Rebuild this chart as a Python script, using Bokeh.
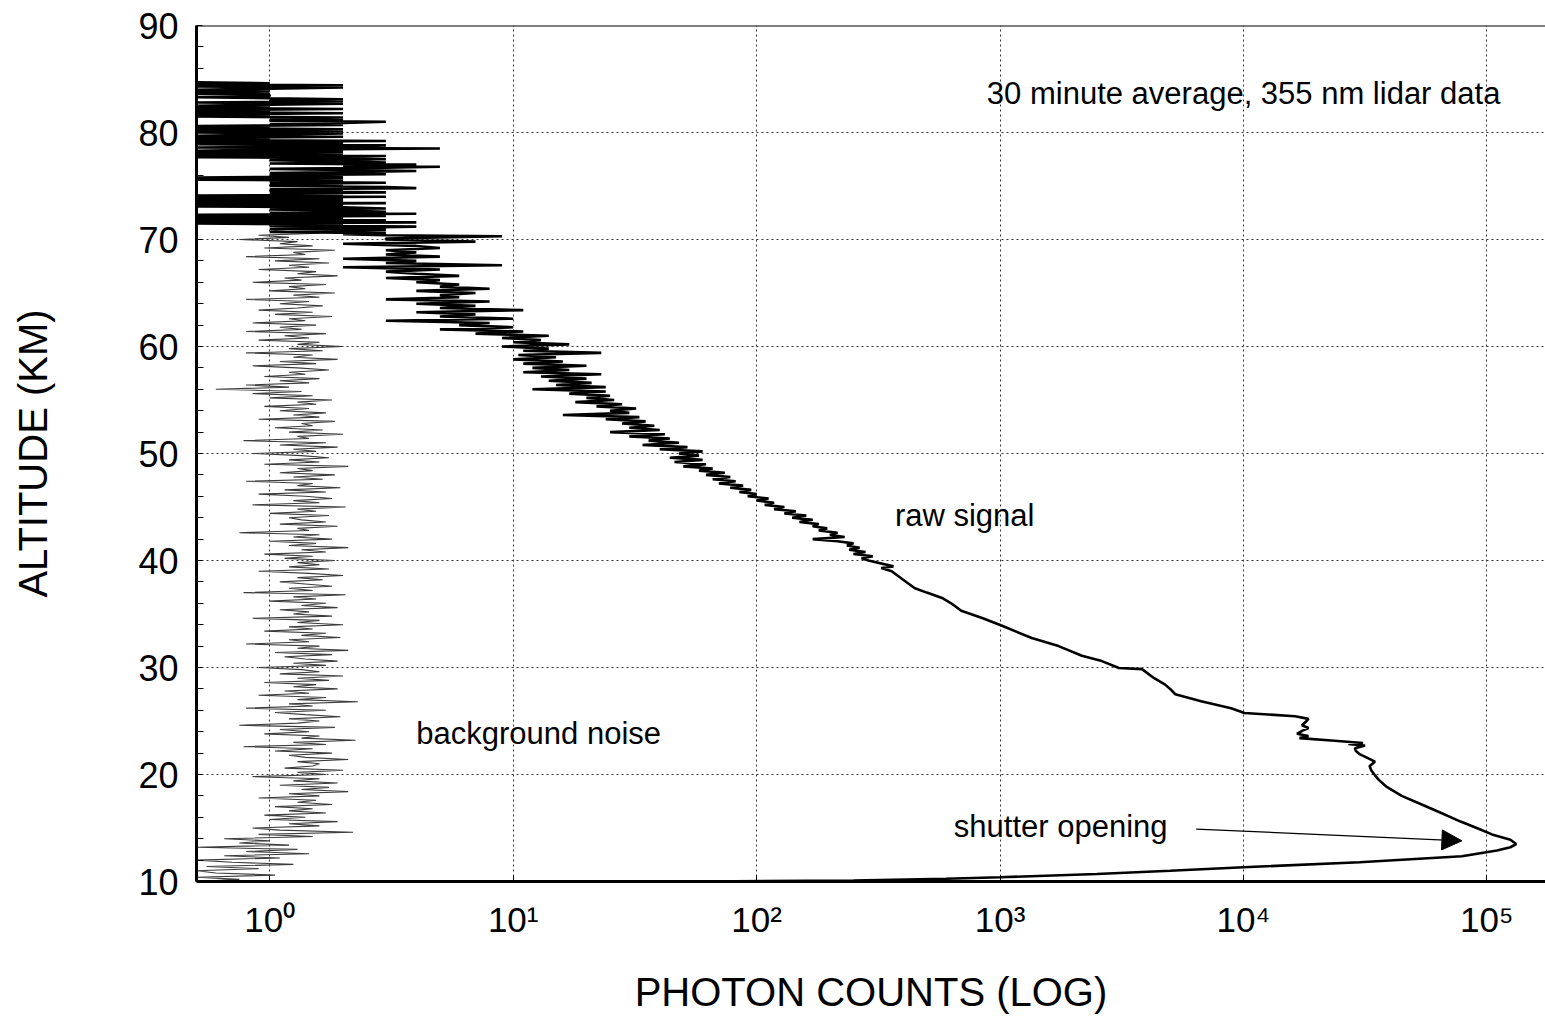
import numpy as np
from bokeh.plotting import figure
from bokeh.models import FixedTicker, Range1d, Label, Arrow, NormalHead, Span
from bokeh.embed import file_html
from bokeh.resources import INLINE

# ---------------- data ----------------
x_ticks = [1, 10, 100, 1000, 10000, 100000]
x_tick_labels = ["10⁰", "10¹", "10²", "10³", "10⁴", "10⁵"]
y_ticks = [10, 20, 30, 40, 50, 60, 70, 80, 90]
y_minor_ticks = [12, 14, 16, 18, 22, 24, 26, 28, 32, 34, 36, 38, 42, 44, 46, 48,
                 52, 54, 56, 58, 62, 64, 66, 68, 72, 74, 76, 78, 82, 84, 86, 88]

# raw signal, lower (smooth) part: altitude (km) and photon counts
raw_low_alt = [10.0, 10.1, 10.25, 10.4, 10.7, 11.0, 11.33, 11.8, 12.36, 12.9,
               13.2, 13.5, 13.9, 14.4, 14.9, 15.6, 16.4, 17.2, 18.0, 18.9,
               19.5, 20.0, 20.4, 20.8, 21.2, 21.6, 21.9, 22.2, 22.45, 22.7,
               22.85, 22.95, 23.15, 23.4, 23.6, 23.8, 24.1, 24.35, 24.6, 24.9,
               25.2, 25.45, 25.75, 26.2, 26.85, 27.5, 28.0, 28.4, 29.0, 29.85,
               29.95, 30.6, 31.1, 32.0, 32.75, 33.9, 34.6, 35.3, 36.0, 36.5,
               37.0, 37.4, 38.2, 39.0, 39.3, 39.45, 40.0]
raw_low_counts = [60, 250, 600, 1000, 2500, 5000, 10000, 30000, 79000, 110000,
                  125000, 132000, 125000, 105000, 93000, 78000, 65000, 54000, 44700, 38500,
                  36000, 34500, 33500, 33000, 34700, 32000, 30000, 29000, 28700, 31600,
                  27000, 31000, 23700, 17000, 18500, 16600, 17500, 18500, 17400, 18000,
                  18500, 16300, 10100, 8900, 6700, 5250, 5000, 4770, 4300, 3830,
                  3080, 2620, 2170, 1740, 1350, 1020, 850, 693, 630, 578,
                  500, 447, 400, 359, 325, 365, 288]

# raw signal, middle (noisy) part: 0.2 km bins from 40.2 km to 70.0 km
raw_mid_start_km = 40.2
raw_mid_bin_km = 0.2
raw_mid_counts = [
    270, 300, 250, 280, 240, 265, 235, 250, 215, 170,
    230, 200, 215, 180, 195, 170, 180, 150, 170, 140,
    160, 130, 145, 118, 130, 108, 118, 100, 112, 92,
    100, 85, 95, 78, 88, 70, 82, 66, 78, 62,
    74, 58, 66, 50, 62, 46, 60, 44, 58, 48,
    60, 40, 52, 34, 48, 36, 44, 30, 42, 25,
    40, 30, 38, 28, 35, 24, 33, 16, 30, 25,
    32, 22, 28, 18, 26, 20, 25, 17, 24, 12,
    24, 15, 21, 14, 20, 13, 23, 11, 17, 12,
    20, 11, 16, 10, 15, 10.5, 23, 11, 14, 9,
    17, 10, 13, 9, 14, 7, 11, 5, 10, 6,
    8, 3, 10, 5, 7, 4, 11, 5, 7, 4,
    8, 3, 6, 5, 7, 4, 8, 5, 6, 4,
    5, 3, 6, 4, 3, 5, 2, 9, 3, 4,
    2, 5, 3, 4, 3, 5, 4, 2, 7, 3,
]

# raw signal, top (quantised, very noisy) part: 0.1 km bins from 70.1 km to 84.7 km
raw_top_start_km = 70.1
raw_top_bin_km = 0.1
raw_top_counts = [
    3, 5, 9, 3, 2, 3, 1, 2, 3, 1,
    2, 4, 1, 2, 0.5, 4, 0.5, 3, 0.5, 2,
    0.5, 3, 0.5, 4, 1, 3, 2, 1, 3, 2,
    0.5, 2, 0.5, 3, 0.5, 2, 0.5, 2, 0.5, 3,
    0.5, 2, 1, 3, 1, 2, 1, 4, 3, 1,
    2, 1, 3, 1, 2, 0.5, 2, 0.5, 2, 1,
    3, 1, 2, 4, 2, 1, 3, 5, 2, 4,
    1, 3, 2, 1, 3, 2, 0.5, 3, 0.5, 2,
    0.5, 2, 0.5, 1, 5, 0.5, 2, 3, 0.5, 2,
    0.5, 3, 0.5, 1, 0.5, 2, 0.5, 1, 2, 0.5,
    2, 0.5, 2, 0.5, 1, 0.5, 2, 1, 2, 3,
    1, 2, 1, 2, 0.5, 1, 0.5, 2, 0.5, 1,
    0.5, 2, 0.5, 1, 0.5, 1, 2, 0.5, 2, 1,
    2, 1, 0.5, 1, 1, 0.5, 1, 0.5, 1, 0.5,
    1, 2, 0.5, 2, 0.5, 1, 0.5,
]

# background noise: 0.2 km bins from 10.0 km to 71.0 km
noise_start_km = 10.0
noise_bin_km = 0.2
noise_counts = [
    0.5, 0.75, 0.5, 1.05, 0.6, 0.5, 0.9, 0.55, 1.25, 0.7,
    0.5, 1.1, 0.65, 1.45, 0.8, 1.3, 0.5, 1.2, 0.75, 1.0,
    0.65, 1.5, 0.9, 2.2, 1.1, 0.85, 1.6, 1.2, 1.9, 1.0,
    1.4, 0.95, 1.7, 1.2, 1.5, 1.05, 1.8, 1.3, 1.55, 0.9,
    1.6, 1.2, 2.1, 1.35, 1.75, 1.1, 1.9, 1.25, 1.6, 0.85,
    1.7, 1.3, 2.0, 1.15, 1.5, 1.6, 1.3, 2.1, 1.4, 1.2,
    1.8, 1.05, 1.5, 0.78, 1.7, 1.25, 2.25, 1.35, 1.6, 0.95,
    1.45, 1.1, 1.85, 0.75, 1.3, 1.6, 1.2, 1.95, 1.4, 1.05,
    1.7, 0.8, 1.5, 1.2, 2.3, 1.3, 1.7, 0.9, 1.45, 1.15,
    1.9, 1.25, 1.55, 0.95, 1.75, 1.3, 2.0, 1.1, 1.6, 1.35,
    0.9, 1.7, 1.25, 1.9, 1.4, 1.15, 1.8, 1.05, 2.1, 1.3,
    1.6, 0.8, 1.45, 1.2, 1.95, 1.35, 1.7, 0.95, 1.5, 1.2,
    2.0, 1.3, 1.6, 0.85, 1.8, 1.25, 1.45, 1.1, 1.9, 1.35,
    1.7, 1.0, 1.55, 1.25, 2.05, 0.78, 1.5, 1.2, 1.8, 1.4,
    1.1, 1.65, 1.3, 2.0, 1.45, 0.9, 1.75, 1.2, 1.6, 1.3,
    1.85, 1.15, 1.5, 0.95, 1.7, 1.35, 2.1, 1.2, 1.55, 1.0,
    1.8, 1.25, 1.6, 0.75, 1.45, 1.3, 1.9, 1.1, 1.7, 1.35,
    1.2, 1.75, 1.0, 1.55, 1.3, 2.05, 0.85, 1.6, 1.25, 1.8,
    1.4, 0.9, 1.7, 1.15, 1.95, 1.3, 1.5, 0.8, 1.65, 1.25,
    1.85, 1.1, 1.5, 1.3, 2.1, 0.95, 1.6, 1.2, 1.75, 1.35,
    0.85, 1.55, 1.25, 1.9, 1.1, 1.7, 0.78, 1.45, 1.3, 2.0,
    1.2, 1.65, 1.05, 1.5, 1.35, 1.85, 0.9, 1.6, 1.25, 1.7,
    1.1, 1.45, 0.95, 1.55, 1.3, 1.8, 1.0, 1.5, 0.85, 1.35,
    0.6, 1.2, 0.8, 1.45, 1.1, 1.6, 0.95, 1.4, 1.2, 1.75,
    1.3, 0.85, 1.55, 1.1, 1.9, 1.25, 1.5, 0.8, 1.65, 1.2,
    2.0, 1.3, 1.6, 0.9, 1.45, 1.15, 1.7, 0.8, 1.35, 1.1,
    1.55, 0.85, 1.4, 1.2, 1.8, 1.05, 1.5, 0.9, 1.3, 1.65,
    1.1, 1.45, 0.8, 1.6, 1.25, 1.85, 1.0, 1.4, 1.2, 1.7,
    0.85, 1.35, 1.15, 1.9, 1.3, 1.55, 0.9, 1.45, 1.2, 1.75,
    1.05, 1.6, 0.8, 1.4, 1.25, 1.85, 0.95, 1.5, 1.1, 1.3,
    0.75, 1.2, 0.9, 1.6, 1.0, 1.3,
]


def bins(start, step, n):
    return list(np.round(start + step * np.arange(n), 2))


# ---------------- assemble series ----------------
raw_alt = (raw_low_alt
           + bins(raw_mid_start_km, raw_mid_bin_km, len(raw_mid_counts))
           + bins(raw_top_start_km, raw_top_bin_km, len(raw_top_counts)))
raw_counts = raw_low_counts + raw_mid_counts + raw_top_counts
noise_alt = bins(noise_start_km, noise_bin_km, len(noise_counts))

FONT = "Liberation Sans"

p = figure(width=1545, height=1016, x_axis_type="log",
           x_range=Range1d(0.5, 1.742e5), y_range=Range1d(10, 90),
           output_backend="svg", toolbar_location=None,
           min_border_left=196, min_border_right=0, min_border_top=25, min_border_bottom=135)
p.outline_line_color = None
p.background_fill_color = "white"
p.border_fill_color = "white"

# axes
p.xaxis.ticker = FixedTicker(ticks=x_ticks, minor_ticks=[])
p.xaxis.major_label_overrides = {float(v): s for v, s in zip(x_ticks, x_tick_labels)}
p.yaxis.ticker = FixedTicker(ticks=y_ticks, minor_ticks=y_minor_ticks)
for ax in (p.xaxis, p.yaxis):
    ax.axis_line_width = 3
    ax.axis_line_color = "black"
    ax.major_label_text_font = FONT
    ax.major_label_text_color = "black"
    ax.axis_label_text_font = FONT
    ax.axis_label_text_font_style = "normal"
    ax.axis_label_text_color = "black"
    ax.axis_label_text_font_size = "40px"
    ax.major_tick_out = 0
    ax.major_tick_in = 6
    ax.minor_tick_out = 0
    ax.minor_tick_in = 7
    ax.major_tick_line_color = "black"
    ax.minor_tick_line_color = "black"
p.xaxis.major_label_text_font_size = "35px"
p.yaxis.major_label_text_font_size = "36px"
p.xaxis.major_label_standoff = 18
p.yaxis.major_label_standoff = 18
p.xaxis.axis_label = "PHOTON COUNTS (LOG)"
p.yaxis.axis_label = "ALTITUDE (KM)"
p.xaxis.axis_label_standoff = 28
p.yaxis.axis_label_standoff = 80

# grid
p.grid.grid_line_color = "#333333"
p.grid.grid_line_dash = "2 3"
p.grid.grid_line_width = 1

# top border
p.add_layout(Span(location=90, dimension="width", line_color="black", line_width=2))

# series
p.line(noise_counts, noise_alt, line_color="#3c3c3c", line_width=1.1)
p.line(raw_counts, raw_alt, line_color="black", line_width=2.6)

# annotations
lab_kw = dict(text_font=FONT, text_font_size="31px", text_color="black",
              text_baseline="middle", text_align="left")
p.add_layout(Label(x=883, y=83.6, text="30 minute average, 355 nm lidar data", **lab_kw))
p.add_layout(Label(x=370, y=44.2, text="raw signal", **lab_kw))
p.add_layout(Label(x=4.0, y=23.8, text="background noise", **lab_kw))
p.add_layout(Label(x=646, y=15.1, text="shutter opening", **lab_kw))
p.add_layout(Arrow(end=NormalHead(size=20, fill_color="black", line_color="black"),
                   x_start=6400, y_start=14.9, x_end=7.9e4, y_end=13.8,
                   line_color="black", line_width=1.2))

open("out.html", "w").write(file_html(p, INLINE))
